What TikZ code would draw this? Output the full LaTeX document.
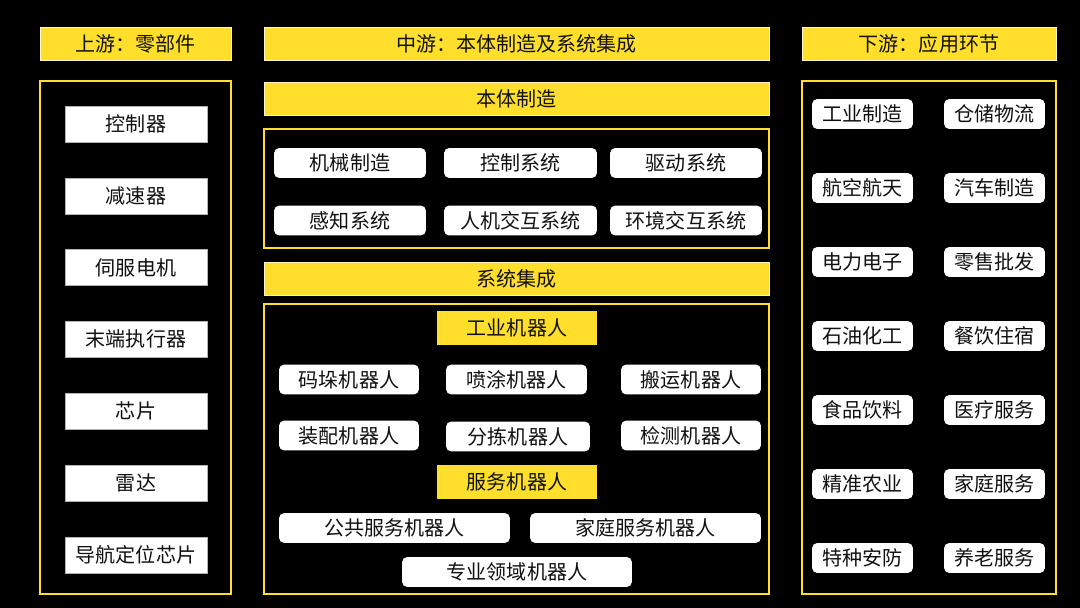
\documentclass[tikz,border=0pt]{standalone}
\usepackage{fontspec}
\usepackage{xcolor}
\usepackage{tikz}
\newfontfamily\cjk{Noto Sans CJK SC}
\definecolor{huang}{HTML}{FFDF2B}
\definecolor{zi}{HTML}{111111}

\begin{document}
\begin{tikzpicture}[x=0.02cm, y=-0.02cm,
    every node/.style={font=\cjk\fontsize{11.4}{13}\selectfont, text=zi, inner sep=0pt},
    tou/.style={fill=huang, draw=white!70!huang, line width=0.4pt, minimum height=0.66cm},
    kuang/.style={draw=huang, line width=1.2pt},
    lbox/.style={fill=white, draw=gray!60, line width=0.3pt, minimum width=2.84cm, minimum height=0.72cm},
    rbox/.style={fill=white, rounded corners=3pt, minimum width=2.02cm, minimum height=0.6cm},
    mbox/.style={fill=white, rounded corners=3pt, minimum height=0.6cm},
    xiao/.style={fill=huang, minimum width=3.2cm, minimum height=0.68cm}]

        % 背景
        \fill[black] (0,0) rectangle (1080,608);
        \useasboundingbox (0,0) rectangle (1080,608);

        % 三个标题
        \node[tou, minimum width=3.82cm] (shang) at (135.5,43.5) {上游：零部件};
        \node[tou, minimum width=10.1cm] (zhong) at (516.5,43.5) {中游：本体制造及系统集成};
        \node[tou, minimum width=5.08cm] (xia) at (929,43.5) {下游：应用环节};

        % 外框
        \draw[kuang] (40,81) rectangle (231,594);
        \draw[kuang] (264,129) rectangle (769,248);
        \draw[kuang] (264,304) rectangle (769,594);
        \draw[kuang] (802,81) rectangle (1056,594);

        % 上游：零部件
        \foreach \name [count=\i from 0] in {控制器,减速器,伺服电机,末端执行器,芯片,雷达,导航定位芯片}
            \node[lbox] (part\i) at (136, {124 + 71.8*\i}) {\name};

        % 中游：本体制造
        \node[tou, minimum width=10.1cm] (benti) at (516.5,98.5) {本体制造};
        \node[mbox, minimum width=3.04cm] (jixie) at (350,163) {机械制造};
        \node[mbox, minimum width=3.06cm] (kongzhi) at (520.5,163) {控制系统};
        \node[mbox, minimum width=3.04cm] (qudong) at (686,163) {驱动系统};
        \node[mbox, minimum width=3.04cm] (ganzhi) at (350,220.5) {感知系统};
        \node[mbox, minimum width=3.06cm] (renji) at (520.5,220.5) {人机交互系统};
        \node[mbox, minimum width=3.04cm] (huanjing) at (686,220.5) {环境交互系统};

        % 中游：系统集成
        \node[tou, minimum width=10.1cm] (jicheng) at (516.5,278.5) {系统集成};
        \node[xiao] (gongye) at (517,328) {工业机器人};
        \node[mbox, minimum width=2.8cm] (maduo) at (349,379.5) {码垛机器人};
        \node[mbox, minimum width=2.82cm] (pentu) at (516.5,379.5) {喷涂机器人};
        \node[mbox, minimum width=2.8cm] (banyun) at (691,379.5) {搬运机器人};
        \node[mbox, minimum width=2.8cm] (zhuangpei) at (349,435.5) {装配机器人};
        \node[mbox, minimum width=2.88cm] (fenjian) at (518,436.5) {分拣机器人};
        \node[mbox, minimum width=2.8cm] (jiance) at (691,435.5) {检测机器人};
        \node[xiao] (fuwu) at (517,482) {服务机器人};
        \node[mbox, minimum width=4.62cm] (gonggong) at (394.5,528) {公共服务机器人};
        \node[mbox, minimum width=4.62cm] (jiating) at (645.5,528) {家庭服务机器人};
        \node[mbox, minimum width=4.6cm] (zhuanye) at (517,572) {专业领域机器人};

        % 下游：应用环节
        \foreach \a/\b [count=\i from 0] in {工业制造/仓储物流,航空航天/汽车制造,电力电子/零售批发,石油化工/餐饮住宿,食品饮料/医疗服务,精准农业/家庭服务,特种安防/养老服务}
        {
            \node[rbox] (yingA\i) at (862.5, {114 + 74*\i}) {\a};
            \node[rbox] (yingB\i) at (994.5, {114 + 74*\i}) {\b};
        }

    \end{tikzpicture}
\end{document}
